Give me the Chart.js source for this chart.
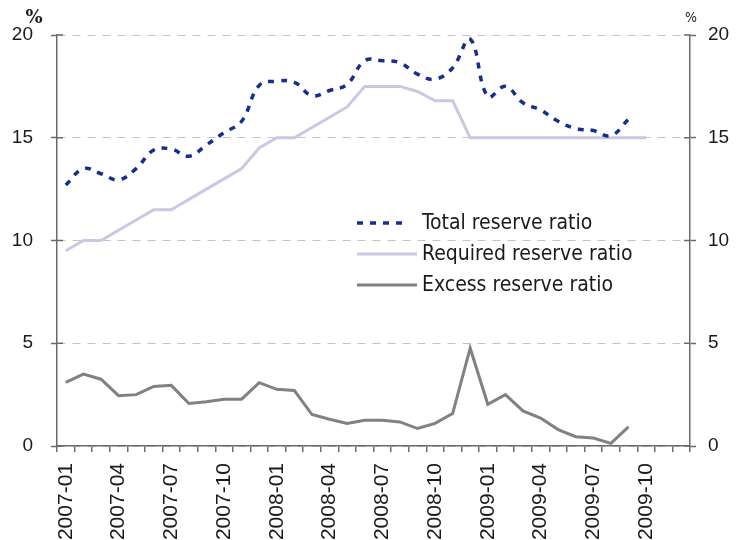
<!DOCTYPE html>
<html>
<head>
<meta charset="utf-8">
<script src="https://cdn.jsdelivr.net/npm/chart.js@4/dist/chart.umd.min.js"></script>
<style>
  html, body { margin: 0; padding: 0; background: #fff; }
  canvas { display: block; }
</style>
</head>
<body>
<canvas id="reserveChart" width="741" height="540"></canvas>
<script>
// Monthly categories, 2007-01 .. 2009-12
const months = [
  "2007-01", "2007-02", "2007-03", "2007-04", "2007-05", "2007-06",
  "2007-07", "2007-08", "2007-09", "2007-10", "2007-11", "2007-12",
  "2008-01", "2008-02", "2008-03", "2008-04", "2008-05", "2008-06",
  "2008-07", "2008-08", "2008-09", "2008-10", "2008-11", "2008-12",
  "2009-01", "2009-02", "2009-03", "2009-04", "2009-05", "2009-06",
  "2009-07", "2009-08", "2009-09", "2009-10", "2009-11", "2009-12"
];

// Values (%)
const totalReserve = [
  12.7, 13.5, 13.25, 12.95, 13.5, 14.4, 14.45, 14.1, 14.65, 15.25, 15.8, 17.55,
  17.75, 17.7, 17.05, 17.3, 17.6, 18.75, 18.75, 18.65, 18.1, 17.85, 18.4, 19.8,
  17.0, 17.5, 16.7, 16.35, 15.8, 15.45, 15.35, 15.1, 15.9
];
const requiredReserve = [
  9.5, 10, 10, 10.5, 11, 11.5, 11.5, 12, 12.5, 13, 13.5, 14.5,
  15, 15, 15.5, 16, 16.5, 17.5, 17.5, 17.5, 17.25, 16.8, 16.8, 15,
  15, 15, 15, 15, 15, 15, 15, 15, 15, 15
];
const excessReserve = [
  3.1, 3.5, 3.25, 2.45, 2.5, 2.9, 2.95, 2.07, 2.15, 2.28, 2.28, 3.08,
  2.76, 2.7, 1.53, 1.3, 1.1, 1.25, 1.25, 1.17, 0.85, 1.1, 1.58, 4.76,
  2.03, 2.5, 1.71, 1.36, 0.8, 0.45, 0.39, 0.13, 0.93
];
const yTicks = [0, 5, 10, 15, 20];

const AXIS = "#6a6a6a";
const TEXT = "#1a1a1a";
const yFont = { family: "'Liberation Sans', Arial, sans-serif", size: 19 };
const xFont = { family: "'Liberation Sans', Arial, sans-serif", size: 21 };

// legend drawn inside the plot, like the original
const insideLegend = {
  id: "insideLegend",
  afterDatasetsDraw(chart) {
    const ctx = chart.ctx;
    const rows = [223, 254, 285];
    ctx.save();
    chart.data.datasets.forEach((ds, i) => {
      const y = rows[i];
      ctx.beginPath();
      ctx.strokeStyle = ds.borderColor;
      ctx.lineWidth = ds.borderWidth;
      ctx.setLineDash(ds.borderDash || []);
      ctx.moveTo(357, y);
      ctx.lineTo(ds.borderDash ? 409 : 417, y);
      ctx.stroke();
      ctx.setLineDash([]);
      ctx.fillStyle = TEXT;
      ctx.font = "21px 'DejaVu Sans Condensed', 'DejaVu Sans', sans-serif";
      ctx.textBaseline = "middle";
      ctx.fillText(ds.label, 422, y + 1);
    });
    ctx.restore();
  }
};

// tick marks crossing the vertical axes + "%" unit labels
const axisExtras = {
  id: "axisExtras",
  afterDraw(chart) {
    const ctx = chart.ctx;
    const area = chart.chartArea;
    const y = chart.scales.y;
    ctx.save();
    ctx.strokeStyle = AXIS;
    ctx.lineWidth = 1.5;
    yTicks.forEach(v => {
      const py = y.getPixelForValue(v);
      ctx.beginPath();
      ctx.moveTo(area.left, py);
      ctx.lineTo(area.left + 6, py);
      ctx.moveTo(area.right - 6, py);
      ctx.lineTo(area.right, py);
      ctx.stroke();
    });
    ctx.fillStyle = TEXT;
    ctx.textAlign = "center";
    ctx.textBaseline = "alphabetic";
    ctx.font = "bold 18px 'DejaVu Serif', 'Liberation Serif', serif";
    ctx.fillText("%", 34, 23);
    ctx.font = "14px 'DejaVu Sans Condensed', 'DejaVu Sans', sans-serif";
    ctx.fillText("%", 691, 22);
    ctx.restore();
  }
};

new Chart(document.getElementById("reserveChart"), {
  type: "line",
  data: {
    labels: months,
    datasets: [
      {
        label: "Total reserve ratio",
        data: totalReserve,
        borderColor: "#14308c",
        borderWidth: 3.5,
        borderDash: [6, 7],
        tension: 0.4,
        pointRadius: 0,
        yAxisID: "y"
      },
      {
        label: "Required reserve ratio",
        data: requiredReserve,
        borderColor: "#c9c9e3",
        borderWidth: 3,
        tension: 0,
        pointRadius: 0,
        yAxisID: "y"
      },
      {
        label: "Excess reserve ratio",
        data: excessReserve,
        borderColor: "#818181",
        borderWidth: 3,
        tension: 0,
        pointRadius: 0,
        yAxisID: "y"
      }
    ]
  },
  options: {
    responsive: false,
    animation: false,
    layout: { padding: { top: 35, left: 0, right: 0, bottom: 0 } },
    plugins: {
      legend: { display: false },
      tooltip: { enabled: false }
    },
    scales: {
      x: {
        type: "category",
        offset: true,
        grid: {
          offset: true,
          drawOnChartArea: false,
          drawTicks: true,
          tickLength: 6,
          color: AXIS,
          lineWidth: 1.5
        },
        border: { display: true, color: AXIS, width: 1.5 },
        ticks: {
          autoSkip: false,
          minRotation: 90,
          maxRotation: 90,
          padding: 11,
          color: TEXT,
          font: xFont,
          callback: function (value, index) {
            return index % 3 === 0 ? this.getLabelForValue(value) : "";
          }
        },
        afterFit: s => { s.height = 94; }
      },
      y: {
        position: "left",
        min: 0,
        max: 20,
        ticks: { stepSize: 5, padding: 18, color: TEXT, font: yFont },
        grid: {
          color: "#c4c4c4",
          lineWidth: 1,
          tickColor: AXIS,
          tickWidth: 1.5,
          tickLength: 6
        },
        border: { display: true, color: AXIS, width: 1.5, dash: [8, 7] },
        afterFit: s => { s.width = 57; }
      },
      y2: {
        position: "right",
        min: 0,
        max: 20,
        ticks: { stepSize: 5, padding: 12, color: TEXT, font: yFont },
        grid: {
          drawOnChartArea: false,
          tickColor: AXIS,
          tickWidth: 1.5,
          tickLength: 6
        },
        border: { display: true, color: AXIS, width: 1.5 },
        afterFit: s => { s.width = 51; }
      }
    }
  },
  plugins: [insideLegend, axisExtras]
});
</script>
</body>
</html>
